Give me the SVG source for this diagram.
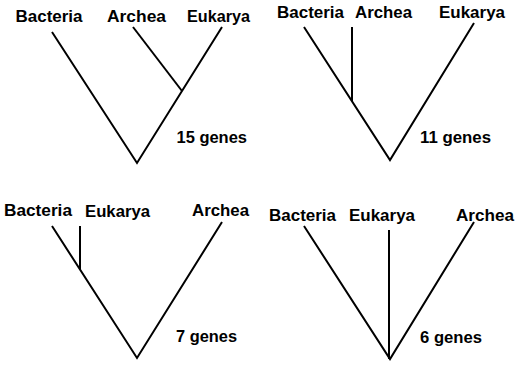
<svg xmlns="http://www.w3.org/2000/svg" width="525" height="367" viewBox="0 0 525 367">
<style>
text{font-family:"Liberation Sans",Arial,sans-serif;font-weight:bold;font-size:16px;fill:#000}
.c line,.c polyline{stroke:#000;stroke-width:2;fill:none;stroke-linejoin:miter}
</style>
<rect width="525" height="367" fill="#fff"/>
<g id="tree1">
<text x="15.5" y="22" textLength="67" lengthAdjust="spacingAndGlyphs">Bacteria</text>
<text x="107" y="22" textLength="59" lengthAdjust="spacingAndGlyphs">Archea</text>
<text x="187" y="22" textLength="63" lengthAdjust="spacingAndGlyphs">Eukarya</text>
<text x="176.5" y="143" textLength="70.5" lengthAdjust="spacingAndGlyphs">15 genes</text>
</g>
<g id="tree2">
<text x="277" y="18" textLength="67" lengthAdjust="spacingAndGlyphs">Bacteria</text>
<text x="355" y="18" textLength="57" lengthAdjust="spacingAndGlyphs">Archea</text>
<text x="439" y="18" textLength="66" lengthAdjust="spacingAndGlyphs">Eukarya</text>
<text x="420" y="143" textLength="71" lengthAdjust="spacingAndGlyphs">11 genes</text>
</g>
<g id="tree3">
<text x="4" y="216" textLength="68" lengthAdjust="spacingAndGlyphs">Bacteria</text>
<text x="85" y="217" textLength="65" lengthAdjust="spacingAndGlyphs">Eukarya</text>
<text x="192" y="216" textLength="57" lengthAdjust="spacingAndGlyphs">Archea</text>
<text x="176" y="342" textLength="61" lengthAdjust="spacingAndGlyphs">7 genes</text>
</g>
<g id="tree4">
<text x="269" y="221" textLength="67" lengthAdjust="spacingAndGlyphs">Bacteria</text>
<text x="349" y="221" textLength="66" lengthAdjust="spacingAndGlyphs">Eukarya</text>
<text x="456" y="221" textLength="58" lengthAdjust="spacingAndGlyphs">Archea</text>
<text x="420" y="343" textLength="62" lengthAdjust="spacingAndGlyphs">6 genes</text>
</g>
<g id="connectors" class="c">
<polyline points="52,32 137,163 222,27"/>
<line x1="133" y1="27" x2="182" y2="91"/>
<polyline points="304,27 390,160 474,23"/>
<line x1="352" y1="27" x2="352" y2="101"/>
<polyline points="52,226 137,358 222,222"/>
<line x1="80" y1="226" x2="80" y2="269"/>
<polyline points="304,226 390,359 474,222"/>
<line x1="389" y1="230" x2="389" y2="359"/>
</g>
</svg>
